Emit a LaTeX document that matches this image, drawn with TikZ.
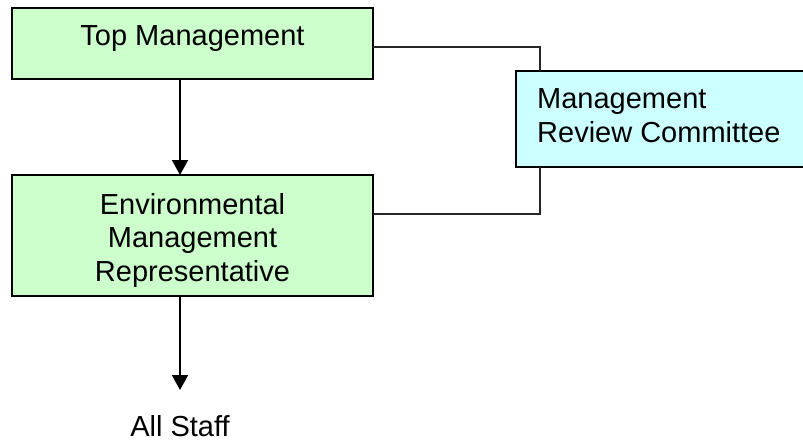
\documentclass[tikz,border=0pt]{standalone}
\usepackage{fontspec}
\setmainfont{Liberation Sans}
\usetikzlibrary{arrows.meta}
\definecolor{boxgreen}{HTML}{CCFFCC}
\definecolor{boxcyan}{HTML}{CCFFFF}
\tikzset{
  box/.style={draw=black, line width=2pt, inner sep=0pt, outer sep=0pt},
  greenbox/.style={box, fill=boxgreen},
  cyanbox/.style={box, fill=boxcyan},
  txt/.style={inner sep=0pt, font=\fontsize{29}{33.5}\selectfont},
  link/.style={draw=black!85, line width=1.3pt},
  flow/.style={draw=black, line width=2pt, -{Triangle[length=15pt,width=16pt]}}
}
\begin{document}
\begin{tikzpicture}[x=1pt,y=-1pt]
\useasboundingbox (0,0) rectangle (803,441);
\clip (0,0) rectangle (803,441);
% boxes
\node[greenbox, minimum width=361pt, minimum height=71pt] (top) at (192.5,43.5) {};
\node[greenbox, minimum width=361pt, minimum height=121pt] (emr) at (192.5,235.5) {};
\node[cyanbox, minimum width=300pt, minimum height=96pt] (mrc) at (666,119) {};
% texts
\node[txt, anchor=base] (toptxt) at (192.5,45.5) {Top Management};
\node[txt, align=center] (emrtxt) at (192.5,240.1) {Environmental\\Management\\Representative};
\node[txt, align=left, anchor=west] (mrctxt) at (537,115.5) {Management\\Review Committee};
\node[txt, anchor=base] (staff) at (180,436) {All Staff};
\coordinate (staffin) at (180,390);
% connectors
\draw[link] (top.east |- 0,47) -| (mrc.north -| 540,0);
\draw[link] (emr.east |- 0,214) -| (mrc.south -| 540,0);
\draw[flow] (top.south -| 180,0) -- (emr.north -| 180,0);
\draw[flow] (emr.south -| 180,0) -- (staffin);
\end{tikzpicture}
\end{document}
